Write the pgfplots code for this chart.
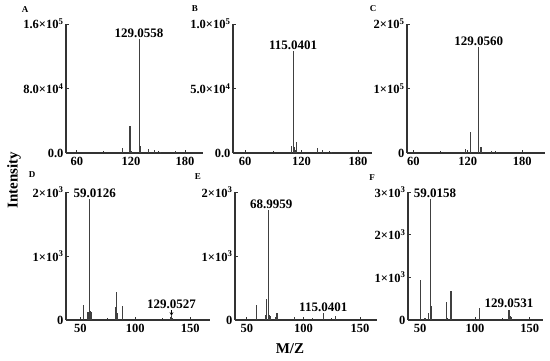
\documentclass[border=0pt]{standalone}
\usepackage{fontspec}
\setmainfont{Liberation Serif}
\usepackage{pgfplots}
\pgfplotsset{compat=1.18}

\pgfplotsset{
  panel/.style={
    scale only axis, anchor=south west, clip=false,
    axis x line=bottom, axis y line=left,
    axis line style={-, line width=1.1pt, black!80},
    ymin=0, scaled y ticks=false, scaled x ticks=false,
    /pgf/number format/assume math mode=true,
    tick align=inside, major tick length=3pt, minor tick length=2pt,
    minor x tick num=1,
    tick style={line width=0.8pt, black!80},
    every tick label/.append style={font=\bfseries\fontsize{12.5}{13}\selectfont},
    xticklabel style={yshift=-1pt},
    yticklabel style={xshift=1pt},
  },
  spec/.style={ycomb, no marks, line width=1.1pt, black!75},
}
\tikzset{pk/.style={font=\bfseries\fontsize{13}{14}\selectfont, inner sep=1pt}}
\newcommand{\sci}[2]{#1×10\textsuperscript{#2}}

\begin{document}
\begin{tikzpicture}[x=1pt,y=1pt]
\useasboundingbox (0,0) rectangle (550,360);

% A
\begin{axis}[panel, at={(66pt,207pt)}, width=137pt, height=129pt,
  xmin=48, xmax=200, ymax=1.6e5, xtick={60,120,180},
  ytick={0,8e4,1.6e5}, yticklabels={0.0,\sci{8.0}{4},\sci{1.6}{5}}]
\addplot[spec] coordinates {
  (111,6000) (119,34000) (120.5,3000) (129.06,141000) (130.5,9000)
  (140,5000) (146,3500) (153,1500) (169,2500)};
\node[pk, anchor=south] at (axis cs:129.06,141000) {129.0558};
\end{axis}

% B
\begin{axis}[panel, at={(233pt,207pt)}, width=139pt, height=129pt,
  xmin=47, xmax=195, ymax=1e5, xtick={60,120,180},
  ytick={0,5e4,1e5}, yticklabels={0.0,\sci{5.0}{4},\sci{1.0}{5}}]
\addplot[spec] coordinates {
  (109.5,5500) (111,79000) (112.3,5000) (113.3,2000) (115,8500)
  (137,4000) (142.5,2200) (152,800)};
\node[pk, anchor=south] at (axis cs:111,79000) {115.0401};
\end{axis}

% C
\begin{axis}[panel, at={(407pt,207pt)}, width=138pt, height=129pt,
  xmin=53, xmax=205, ymax=2e5, xtick={60,120,180},
  ytick={0,1e5,2e5}, yticklabels={0,\sci{1}{5},\sci{2}{5}}]
\addplot[spec] coordinates {
  (117.5,5500) (123,32000) (132,164000) (134.5,9000) (146,3500) (152,2000)};
\node[pk, anchor=south] at (axis cs:132,164000) {129.0560};
\end{axis}

% D
\begin{axis}[panel, at={(66pt,40pt)}, width=144pt, height=128pt,
  xmin=37, xmax=168, ymax=2000, xtick={50,100,150},
  ytick={0,1000,2000}, yticklabels={0,\sci{1}{3},\sci{2}{3}}]
\addplot[spec] coordinates {
  (53,235) (57,130) (58.7,1890) (59.6,140) (60.6,130)
  (82,200) (82.8,440) (84,110) (88.5,220) (132,40) (133,60) (134,30)};
\node[pk, anchor=south, xshift=5pt] at (axis cs:58.7,1890) {59.0126};
\node[pk, anchor=south] at (axis cs:133,160) {129.0527};
\draw[->, >=stealth, line width=0.6pt] (axis cs:133,150) -- (axis cs:133,65);
\end{axis}

% E
\begin{axis}[panel, at={(235pt,40pt)}, width=142pt, height=128pt,
  xmin=39.5, xmax=165, ymax=2000, xtick={50,100,150},
  ytick={0,1000,2000}, yticklabels={0,\sci{1}{3},\sci{2}{3}}]
\addplot[spec] coordinates {
  (58.6,234) (66.5,80) (67.3,322) (68.9,1714) (70,80) (71,60)
  (75.5,40) (76.6,104) (92,50) (108,25) (117.5,104) (128,60)};
\node[pk, anchor=south, xshift=3pt] at (axis cs:68.9,1714) {68.9959};
\node[pk, anchor=south] at (axis cs:117.5,110) {115.0401};
\end{axis}

% F
\begin{axis}[panel, at={(408pt,40pt)}, width=135pt, height=128pt,
  xmin=39, xmax=162, ymax=3000, xtick={50,100,150},
  ytick={0,1000,2000,3000}, yticklabels={0,\sci{1}{3},\sci{2}{3},\sci{3}{3}}]
\addplot[spec] coordinates {
  (50.6,935) (54.5,50) (57.6,156) (59.1,2844) (60,327)
  (74.2,413) (78.2,686) (104.5,273) (131,234) (132,90) (133.5,70)};
\node[pk, anchor=south, xshift=5pt] at (axis cs:59.1,2844) {59.0158};
\node[pk, anchor=south] at (axis cs:131,250) {129.0531};
\end{axis}

\node[font=\bfseries\fontsize{9}{10}\selectfont] at (25,350) {A};
\node[font=\bfseries\fontsize{9}{10}\selectfont] at (195,351) {B};
\node[font=\bfseries\fontsize{9}{10}\selectfont] at (373,351) {C};
\node[font=\bfseries\fontsize{9}{10}\selectfont] at (32,185) {D};
\node[font=\bfseries\fontsize{9}{10}\selectfont] at (198,183) {E};
\node[font=\bfseries\fontsize{9}{10}\selectfont] at (372,182) {F};
\node[font=\bfseries\fontsize{15}{16}\selectfont, rotate=90] at (14,180) {Intensity};
\node[font=\bfseries\fontsize{15}{16}\selectfont] at (290,11) {M/Z};
\end{tikzpicture}
\end{document}
